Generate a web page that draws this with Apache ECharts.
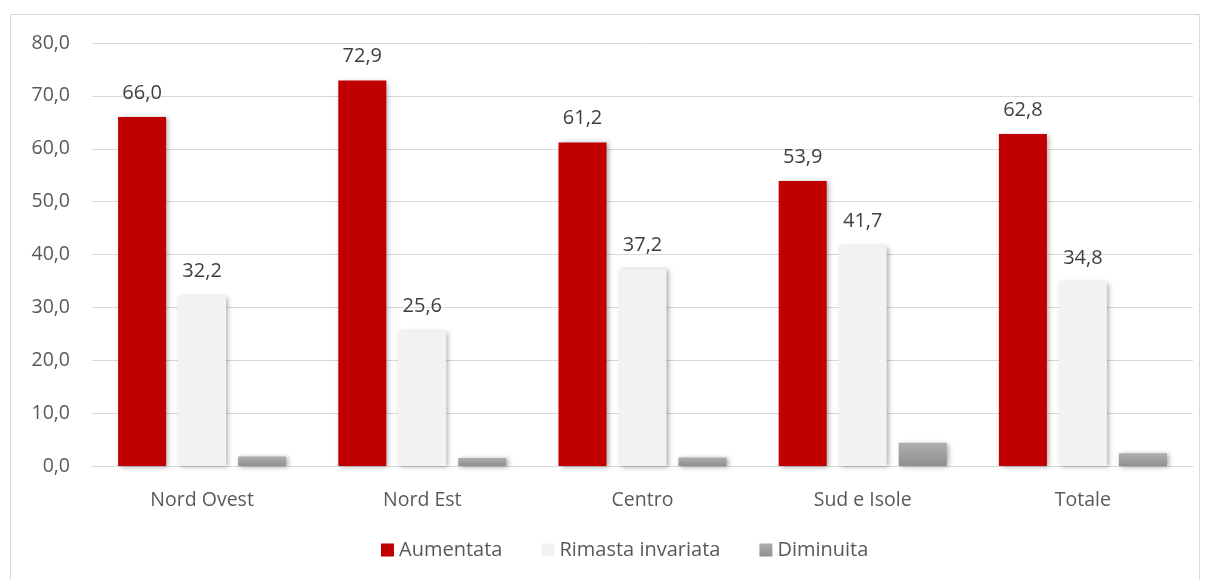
<!DOCTYPE html>
<html><head><meta charset="utf-8">
<script src="https://cdn.jsdelivr.net/npm/echarts@6/dist/echarts.min.js"></script>
<style>html,body{margin:0;padding:0;background:#fff}#c{width:1209px;height:580px}</style>
</head><body><div id="c"></div>
<script>
var categories = ['Nord Ovest', 'Nord Est', 'Centro', 'Sud e Isole', 'Totale'];
var aumentata = [66.0, 72.9, 61.2, 53.9, 62.8];
var rimasta = [32.2, 25.6, 37.2, 41.7, 34.8];
var diminuita = [1.8, 1.5, 1.6, 4.4, 2.4];
var seriesNames = ['Aumentata', 'Rimasta invariata', 'Diminuita'];

var FONT = 'Open Sans';
var fmt = function (v) { return Number(v).toFixed(1).replace('.', ','); };
var shadow = { shadowBlur: 5, shadowColor: 'rgba(0,0,0,0.35)', shadowOffsetX: 2, shadowOffsetY: 1 };
var label = { show: true, position: 'top', distance: 14, color: '#404040', fontFamily: FONT, fontSize: 20,
  formatter: function (p) { return fmt(p.value); } };

var chart = echarts.init(document.getElementById('c'));
chart.setOption({
  animation: false,
  graphic: [{ type: 'rect', shape: { x: 10.5, y: 14.5, width: 1189, height: 570 }, style: { fill: 'none', stroke: '#d9d9d9', lineWidth: 1 } }],
  grid: { left: 92, right: 16, top: 43, bottom: 114 },
  legend: {
    bottom: 15, left: 376, itemWidth: 13, itemHeight: 13, itemGap: 39, icon: 'rect',
    textStyle: { color: '#595959', fontFamily: FONT, fontSize: 20 },
    data: seriesNames
  },
  xAxis: {
    type: 'category', data: categories,
    axisLine: { lineStyle: { color: '#d9d9d9', width: 1 } },
    axisTick: { show: false },
    axisLabel: { color: '#595959', fontFamily: FONT, fontSize: 19.5, margin: 24 }
  },
  yAxis: {
    type: 'value', min: 0, max: 80, interval: 10,
    axisLine: { show: false }, axisTick: { show: false },
    splitLine: { lineStyle: { color: '#d9d9d9', width: 1 } },
    axisLabel: { color: '#595959', fontFamily: FONT, fontSize: 19.5, margin: 22, formatter: fmt }
  },
  series: [
    { name: seriesNames[0], type: 'bar', data: aumentata, barWidth: 48, barGap: '25%',
      itemStyle: Object.assign({ color: '#c00000' }, shadow), label: label },
    { name: seriesNames[1], type: 'bar', data: rimasta, barWidth: 48,
      itemStyle: Object.assign({ color: '#f2f2f2' }, shadow), label: label },
    { name: seriesNames[2], type: 'bar', data: diminuita, barWidth: 48,
      itemStyle: Object.assign({ color: new echarts.graphic.LinearGradient(0, 0, 0, 1, [{ offset: 0, color: '#afafaf' }, { offset: 1, color: '#8f8f8f' }]) }, shadow) }
  ]
});
</script></body></html>
